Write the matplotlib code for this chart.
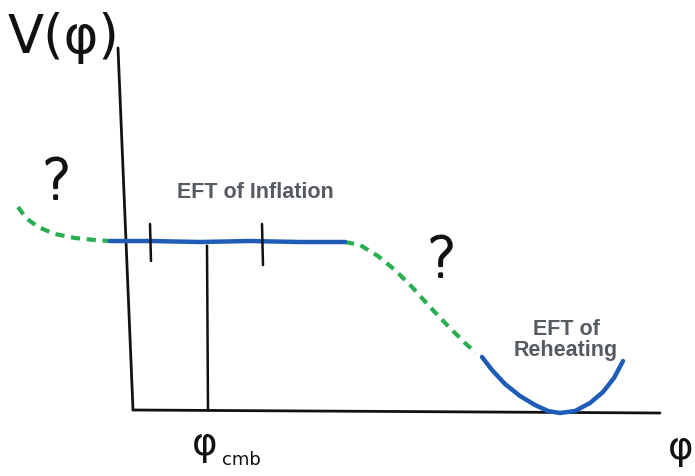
import numpy as np
import matplotlib.pyplot as plt
import matplotlib.patheffects as pe

# sketch coordinates: x to the right, y measured downward from the top (pixels of the drawing)
left_unknown_x = [18, 26, 38, 55, 75, 95, 110]
left_unknown_y = [207, 218, 227, 234, 238, 240, 241]

inflation_x = [110, 150, 200, 250, 300, 345]
inflation_y = [241, 241, 242, 241, 242, 242]

mid_unknown_x = [345, 360, 378, 395, 412, 430, 448, 465, 476]
mid_unknown_y = [242, 245, 256, 270, 287, 307, 326, 343, 353]

reheat_x = [482, 492, 505, 520, 535, 548, 560, 575, 590, 603, 614, 623]
reheat_y = [357, 370, 384, 396, 405, 411, 413, 411, 403, 392, 378, 361]

tick_x = [150, 262]
tick_top = [224, 224]
tick_bottom = [261, 265]

cmb_x = 207
cmb_top = 246

BLUE = "#1f5cb8"
GREEN = "#27ae4f"
INK = "#111111"
GREY = "#565b62"

fig = plt.figure(figsize=(6.95, 4.76), dpi=100)
ax = fig.add_axes([0, 0, 1, 1])
ax.set_xlim(0, 695)
ax.set_ylim(476, 0)
ax.axis("off")

# axes of the sketch
ax.plot([118, 133], [48, 410], color=INK, lw=2.0, solid_capstyle="round")
ax.plot([133, 660], [410, 413], color=INK, lw=2.0, solid_capstyle="round")

# potential
ax.plot(left_unknown_x, left_unknown_y, color=GREEN, lw=3, ls=(0, (2.2, 1.6)))
ax.plot(mid_unknown_x, mid_unknown_y, color=GREEN, lw=3, ls=(0, (2.2, 1.6)))
ax.plot(inflation_x, inflation_y, color=BLUE, lw=3.2, solid_capstyle="round")
ax.plot(reheat_x, reheat_y, color=BLUE, lw=3.2, solid_capstyle="round")

# window of observable scales
for x, t, b in zip(tick_x, tick_top, tick_bottom):
    ax.plot([x, x + 1], [t, b], color=INK, lw=1.8, solid_capstyle="round")
ax.plot([cmb_x, cmb_x + 1], [cmb_top, 410], color=INK, lw=1.8)

# labels
ax.text(255, 192, "EFT of Inflation", color=GREY, fontsize=15.5, fontweight="bold",
        family="Liberation Sans", ha="center", va="center")
ax.text(566, 340, "EFT of\nReheating", color=GREY, fontsize=15.5, fontweight="bold",
        family="Liberation Sans", ha="center", va="center", linespacing=1.05)

ink = [pe.withStroke(linewidth=1.6, foreground=INK)]
for qx, qy in [(57, 184), (442, 262)]:
    ax.text(qx, qy, "?", color=INK, fontsize=40, family="DejaVu Sans", fontweight="light",
            ha="center", va="center", path_effects=ink)

ax.text(8, 38, "V(φ)", color=INK, fontsize=38, family="DejaVu Sans", ha="left", va="center")
ax.text(192, 444, "φ", color=INK, fontsize=28, family="DejaVu Sans", ha="left", va="center")
ax.text(222, 460, "cmb", color=INK, fontsize=13, family="DejaVu Sans", ha="left", va="center")
ax.text(668, 448, "φ", color=INK, fontsize=28, family="DejaVu Sans", ha="left", va="center")

fig.savefig("out.png", dpi=100)
